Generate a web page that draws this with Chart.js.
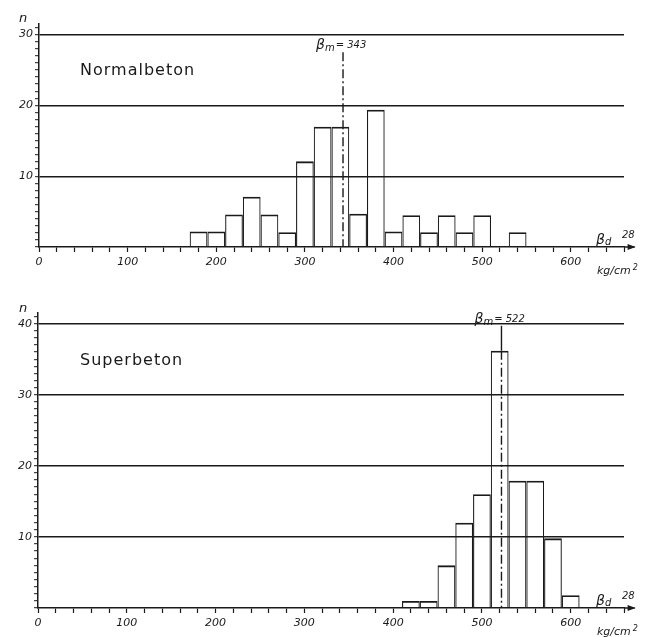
<!DOCTYPE html>
<html>
<head>
<meta charset="utf-8">
<script src="https://cdn.jsdelivr.net/npm/chart.js@4.4.1/dist/chart.umd.min.js"></script>
<style>
  body { margin: 0; background: #fff; }
  .panel { position: absolute; left: 0; width: 646px; }
</style>
</head>
<body>
<div class="panel" style="top:0;height:290px"><canvas id="normal"></canvas></div>
<div class="panel" style="top:290px;height:347px"><canvas id="super"></canvas></div>
<script>
// class centres (kg/cm2), width 20
const normalClasses = [180, 200, 220, 240, 260, 280, 300, 320, 340, 360, 380, 400, 420, 440, 460, 480, 500, 520, 540];
const normalCounts = [2.2, 2.2, 4.6, 7.1, 4.6, 2.1, 12.1, 17, 17, 4.7, 19.4, 2.2, 4.5, 2.1, 4.5, 2.1, 4.5, null, 2.1];
const normalMean = 343;

const superClasses = [420, 440, 460, 480, 500, 520, 540, 560, 580, 600];
const superCounts = [1, 1, 6, 12, 16, 36.2, 17.9, 17.9, 9.8, 1.8];
const superMean = 522;

const xTicksLabelled = [0, 100, 200, 300, 400, 500, 600];
const ink = "#1a1a1a";

function line(ctx, x1, y1, x2, y2) {
  ctx.beginPath();
  ctx.moveTo(x1, y1);
  ctx.lineTo(x2, y2);
  ctx.stroke();
}

// mean line, labels, arrow etc
const decor = {
  id: "decor",
  afterDatasetsDraw(chart, args, o) {
    const { ctx } = chart;
    const x = chart.scales.x, y = chart.scales.y;
    ctx.save();
    ctx.strokeStyle = ink;
    ctx.fillStyle = ink;

    // mean line
    const mx = x.getPixelForValue(o.mean);
    const yTop = y.getPixelForValue(o.meanTop);
    const y0 = y.getPixelForValue(0);
    let ySplit = yTop;
    ctx.lineWidth = 1.4;
    if (o.solidTo != null) {
      ySplit = y.getPixelForValue(o.solidTo);
      line(ctx, mx, yTop, mx, ySplit);
    }
    ctx.setLineDash([9, 3, 2, 3]);
    line(ctx, mx, ySplit, mx, y0);
    ctx.setLineDash([]);

    // beta_m = value
    let tx = mx - 27;
    const ty = yTop - 3;
    ctx.font = "italic 14px 'DejaVu Sans'";
    ctx.fillText("β", tx, ty);
    tx += ctx.measureText("β").width;
    ctx.font = "italic 10px 'DejaVu Sans'";
    ctx.fillText("m", tx, ty + 2);
    tx += ctx.measureText("m").width + 1;
    ctx.fillText("= " + o.mean, tx, ty - 1);

    // arrow on x axis
    const xr = x.getPixelForValue(672);
    ctx.lineWidth = 1.5;
    line(ctx, x.right, y0, xr, y0);
    ctx.beginPath();
    ctx.moveTo(xr + 1, y0);
    ctx.lineTo(xr - 7, y0 - 3);
    ctx.lineTo(xr - 7, y0 + 3);
    ctx.closePath();
    ctx.fill();

    // beta_d 28
    ctx.font = "italic 14px 'DejaVu Sans'";
    ctx.fillText("β", 596, y0 - 3);
    ctx.font = "italic 10px 'DejaVu Sans'";
    ctx.fillText("d", 605, y0 - 2);
    ctx.fillText("28", 622, y0 - 9);

    // unit
    ctx.font = "italic 11px 'DejaVu Sans'";
    ctx.fillText("kg/cm", 597, y0 + 27);
    const uw = ctx.measureText("kg/cm").width;
    ctx.font = "italic 8px 'DejaVu Sans'";
    ctx.fillText("2", 597 + uw + 2, y0 + 23);

    // n
    ctx.font = "italic 13px 'DejaVu Sans'";
    ctx.textAlign = "center";
    ctx.fillText("n", 23, 22);

    // panel name
    ctx.textAlign = "left";
    ctx.font = "16px 'DejaVu Sans'";
    ctx.letterSpacing = "1px";
    ctx.fillText(o.name, 80, 75);
    ctx.restore();
  }
};

function makeChart(id, classes, counts, opts) {
  return new Chart(document.getElementById(id), {
    type: "bar",
    data: {
      datasets: [{
        data: classes.map((c, i) => ({ x: c, y: counts[i] })),
        backgroundColor: "rgba(0,0,0,0)",
        borderColor: ink,
        borderWidth: { top: 1.8, left: 1.1, right: 1.1, bottom: 0 },
        borderSkipped: "bottom",
        inflateAmount: 0,
        barPercentage: 1,
        categoryPercentage: 1
      }]
    },
    options: {
      responsive: true,
      maintainAspectRatio: false,
      animation: false,
      layout: { padding: { top: opts.padTop, right: 22, left: 0, bottom: 0 } },
      plugins: {
        legend: { display: false },
        tooltip: { enabled: false },
        decor: opts.decor
      },
      scales: {
        x: {
          type: "linear",
          min: 0,
          max: 660,
          offset: false,
          afterFit: (s) => { s.height = opts.xHeight; },
          border: { color: ink, width: 1.5 },
          grid: { display: true, drawOnChartArea: false, offset: false, tickColor: ink, tickLength: 5, tickWidth: 1.2 },
          ticks: {
            stepSize: 20,
            autoSkip: false,
            maxRotation: 0,
            padding: 4,
            color: ink,
            font: { family: "DejaVu Sans", size: 11, style: "italic" },
            callback: (v) => xTicksLabelled.includes(v) ? String(v) : ""
          }
        },
        y: {
          min: 0,
          max: opts.yMax,
          afterFit: (s) => { s.width = opts.left; },
          border: { color: ink, width: 1.5 },
          grid: {
            color: (c) => c.tick && c.tick.value % 10 === 0 && c.tick.value > 0 ? ink : "rgba(0,0,0,0)",
            lineWidth: 1.4,
            tickColor: ink,
            tickLength: 4,
            tickWidth: 1
          },
          ticks: {
            stepSize: 1,
            includeBounds: false,
            autoSkip: false,
            padding: 2,
            color: ink,
            font: { family: "DejaVu Sans", size: 11, style: "italic" },
            callback: (v) => v % 10 === 0 && v > 0 ? String(v) : ""
          }
        }
      }
    },
    plugins: [decor]
  });
}

makeChart("normal", normalClasses, normalCounts, {
  padTop: 24, xHeight: 43, yMax: 31.5, left: 39,
  decor: { mean: normalMean, meanTop: 27.5, name: "Normalbeton" }
});

makeChart("super", superClasses, superCounts, {
  padTop: 23, xHeight: 29, yMax: 41.5, left: 38,
  decor: { mean: superMean, meanTop: 39.7, solidTo: superCounts[superClasses.indexOf(520)], name: "Superbeton" }
});
</script>
</body>
</html>
